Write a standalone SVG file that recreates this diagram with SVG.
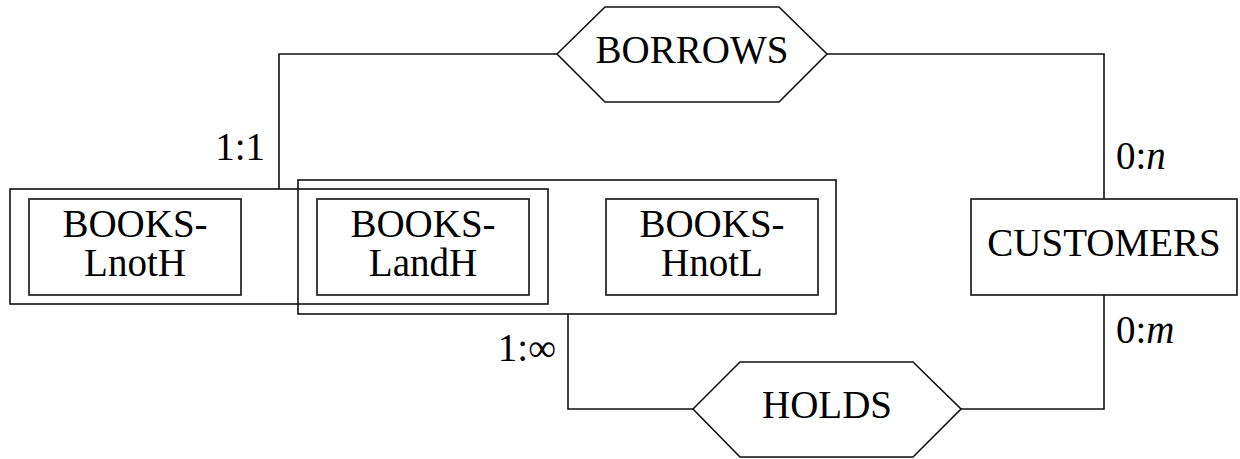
<svg xmlns="http://www.w3.org/2000/svg" width="1240" height="459" viewBox="0 0 1240 459">
  <style>
    .shape { fill: none; stroke: #111; stroke-width: 1.6; }
    .box { fill: #fff; stroke: #111; stroke-width: 1.6; }
    .link { fill: none; stroke: #111; stroke-width: 1.6; }
    text { font-family: "Liberation Serif", "Times New Roman", serif; font-size: 39px; fill: #000; }
    .mid { text-anchor: middle; }
    .end { text-anchor: end; }
    .it { font-style: italic; }
  </style>
  <rect width="1240" height="459" fill="#fff"/>

  <!-- relationship lines -->
  <g id="connectors">
    <polyline class="link" points="557,54 279,54 279,189"/>
    <polyline class="link" points="827,54 1104,54 1104,199"/>
    <polyline class="link" points="568,314 568,409 693,409"/>
    <polyline class="link" points="961,409 1104,409 1104,295"/>
  </g>

  <!-- cardinality labels -->
  <g id="cardinalities">
    <text class="end" x="265" y="160">1:1</text>
    <text x="1116" y="169">0:<tspan class="it">n</tspan></text>
    <text x="1116" y="343">0:<tspan class="it">m</tspan></text>
    <text class="end" x="556" y="361">1:∞</text>
  </g>

  <!-- enclosing set boxes -->
  <g id="books-L">
    <rect class="shape" x="10" y="189" width="538" height="115"/>
  </g>
  <g id="books-H">
    <rect class="shape" x="298" y="180" width="538" height="134"/>
  </g>

  <g id="books-lnoth">
    <rect class="shape" x="29" y="199" width="212" height="96"/>
    <text class="mid" x="135" y="237">BOOKS-</text>
    <text class="mid" x="135" y="276">LnotH</text>
  </g>

  <g id="books-landh">
    <rect class="shape" x="317" y="199" width="212" height="96"/>
    <text class="mid" x="423" y="237">BOOKS-</text>
    <text class="mid" x="423" y="276">LandH</text>
  </g>

  <g id="books-hnotl">
    <rect class="shape" x="606" y="199" width="212" height="96"/>
    <text class="mid" x="712" y="237">BOOKS-</text>
    <text class="mid" x="712" y="276">HnotL</text>
  </g>

  <g id="customers">
    <rect class="box" x="971" y="199" width="266" height="96"/>
    <text class="mid" x="1104" y="256">CUSTOMERS</text>
  </g>

  <g id="borrows">
    <polygon class="box" points="557,54 605,7 779,7 827,54 779,102 605,102"/>
    <text class="mid" x="692" y="63">BORROWS</text>
  </g>

  <g id="holds">
    <polygon class="box" points="693,409 740,362 913,362 961,409 913,457 740,457"/>
    <text class="mid" x="827" y="418">HOLDS</text>
  </g>
</svg>
